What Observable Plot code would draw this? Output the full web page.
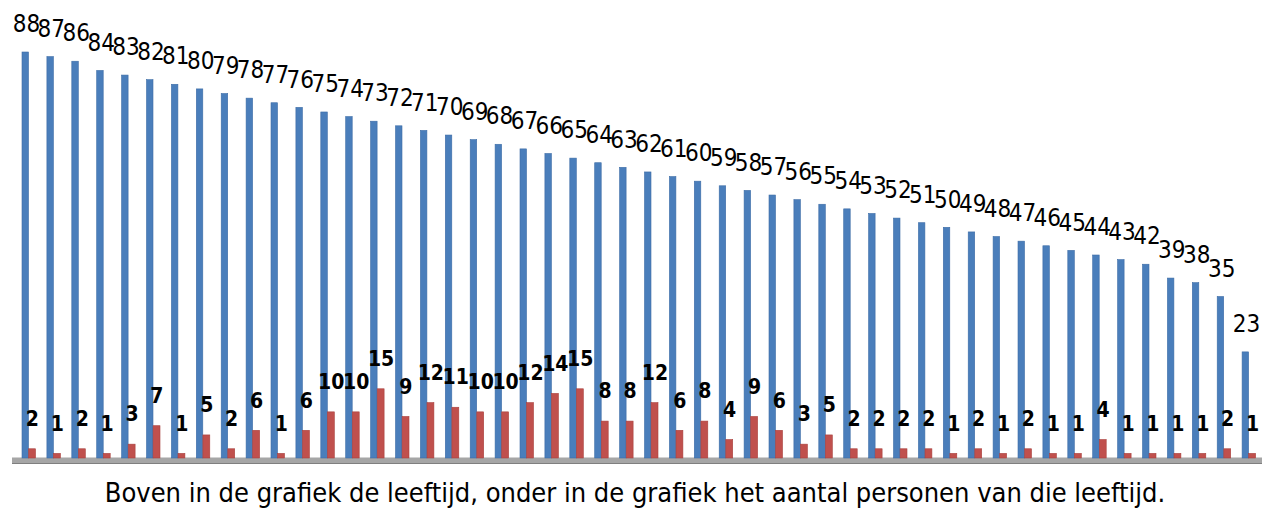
<!DOCTYPE html>
<html>
<head>
<meta charset="utf-8">
<script src="https://cdn.jsdelivr.net/npm/d3@7"></script>
<script src="https://cdn.jsdelivr.net/npm/@observablehq/plot@0.6"></script>
<style>
  body { margin: 0; background: #fff; width: 1270px; height: 508px; overflow: hidden; }
  #caption {
    font-family: "Liberation Sans Narrow", "DejaVu Sans Condensed", sans-serif;
    font-size: 27px; color: #000; text-align: center; height: 38px; line-height: 46px;
    white-space: nowrap;
  }
</style>
</head>
<body>
<div id="chart"></div>
<div id="caption"></div>
<script>
const ages = [88,87,86,84,83,82,81,80,79,78,77,76,75,74,73,72,71,70,69,68,67,66,65,64,63,62,61,60,59,58,57,56,55,54,53,52,51,50,49,48,47,46,45,44,43,42,39,38,35,23];
const counts = [2,1,2,1,3,7,1,5,2,6,1,6,10,10,15,9,12,11,10,10,12,14,15,8,8,12,6,8,4,9,6,3,5,2,2,2,2,1,2,1,2,1,1,4,1,1,1,1,2,1];
const captionText = "Boven in de grafiek de leeftijd, onder in de grafiek het aantal personen van die leeftijd.";

const rows = ages.map((a, i) => ({i, age: a, count: counts[i]}));
const labelFont = '"Liberation Sans Narrow", "DejaVu Sans Condensed", sans-serif';

const chart = Plot.plot({
  width: 1270,
  height: 470,
  marginLeft: 15,
  marginRight: 10,
  marginTop: 52,
  marginBottom: 12,
  x: {type: "band", domain: rows.map(d => d.i), padding: 0, axis: null},
  y: {domain: [0, 88], axis: null},
  marks: [
    Plot.ruleY([0], {stroke: "#a6a6a6", strokeWidth: 6, dy: 2, insetLeft: -3, insetRight: -2}),
    Plot.ruleY([0], {stroke: "#7f7f7f", strokeWidth: 1, dy: 5, insetLeft: -3, insetRight: -2}),
    Plot.barY(rows, {x: "i", y: "age", fill: "#4a7ebb", stroke: "#3c6ca6", strokeWidth: 0.6, insetLeft: 7, insetRight: 11.4}),
    Plot.barY(rows, {x: "i", y: "count", fill: "#c0504d", stroke: "#a9403d", strokeWidth: 0.6, insetLeft: 13.6, insetRight: 4.4}),
    Plot.text(rows, {x: "i", y: "age", text: d => String(d.age), dx: -1.5, dy: -28, fontSize: 24, fontFamily: labelFont, fill: "#000"}),
    Plot.text(rows, {x: "i", y: "count", text: d => String(d.count), dx: 4.5, dy: -30, fontSize: 21, fontWeight: "bold", fontFamily: labelFont, fill: "#000"})
  ]
});
document.getElementById("chart").appendChild(chart);
document.getElementById("caption").textContent = captionText;
</script>
</body>
</html>
